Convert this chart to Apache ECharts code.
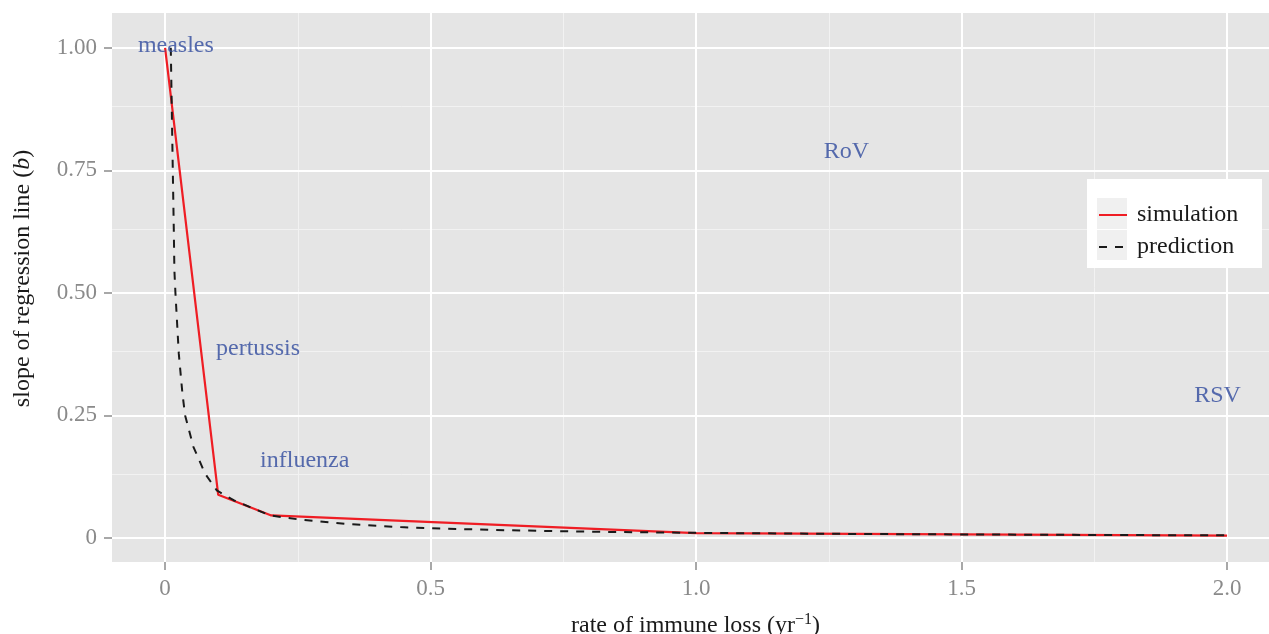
<!DOCTYPE html>
<html>
<head>
<meta charset="utf-8">
<script src="https://cdn.jsdelivr.net/npm/echarts@6/dist/echarts.min.js"></script>
<style>
    html, body { margin: 0; padding: 0; background: #fff; }
    #chart { width: 1269px; height: 634px; }
</style>
</head>
<body>
<div id="chart"></div>
<script>
// ---- data ----
var simX = [0, 0.1, 0.2, 1.0, 2.0];
var simY = [1.0, 0.088, 0.046, 0.010, 0.005];

var predX = [0.0107, 0.0126, 0.0145, 0.0164, 0.0175, 0.0195, 0.0258, 0.0326, 0.0377, 0.0533,
             0.0754, 0.0974, 0.129, 0.160, 0.198, 0.254, 0.349, 0.443, 0.524, 0.650,
             0.80, 1.0, 1.25, 1.5, 1.75, 2.0];
var predY = [1.0, 0.873, 0.75, 0.628, 0.546, 0.499, 0.376, 0.295, 0.250, 0.186,
             0.131, 0.097, 0.077, 0.063, 0.046, 0.0375, 0.028, 0.0222, 0.019, 0.0157,
             0.0128, 0.0105, 0.0085, 0.0072, 0.0062, 0.0053];

var labelNames = ['measles', 'pertussis', 'influenza', 'RoV', 'RSV'];
var labelX = [0.0203, 0.175, 0.263, 1.283, 1.982];
var labelY = [1.005, 0.387, 0.158, 0.789, 0.290];

var xTicks = [0, 0.5, 1.0, 1.5, 2.0];
var yTicks = [0, 0.25, 0.5, 0.75, 1.0];
var xMinor = [0.25, 0.75, 1.25, 1.75];
var yMinor = [0.125, 0.375, 0.625, 0.875];

var FONT = '"Liberation Serif", "DejaVu Serif", serif';

function pairs(xs, ys) {
    return xs.map(function (x, i) { return [x, ys[i]]; });
}

function gridLines(xs, ys) {
    var out = [];
    xs.forEach(function (v) { out.push({ xAxis: v }); });
    ys.forEach(function (v) { out.push({ yAxis: v }); });
    return out;
}

var chart = echarts.init(document.getElementById('chart'));

var option = {
    animation: false,
    grid: {
        left: 112, top: 13, right: 0, bottom: 72,
        outerBoundsMode: 'none',
        show: true, backgroundColor: '#E5E5E5', borderWidth: 0
    },
    legend: {
        data: ['simulation', 'prediction'],
        orient: 'vertical',
        left: 1098, top: 203,
        padding: 0,
        itemWidth: 28, itemHeight: 30, itemGap: 8,
        itemStyle: { color: 'transparent', borderWidth: 0, opacity: 0 },
        textStyle: { fontFamily: FONT, fontSize: 24, color: '#1a1a1a', padding: [0, 0, 0, 5] }
    },
    graphic: [
        { type: 'rect', z: 3, shape: { x: 1087, y: 179, width: 175, height: 89 }, style: { fill: '#ffffff' } },
        { type: 'rect', z: 3, shape: { x: 1097, y: 198, width: 30, height: 31 }, style: { fill: '#F0F0F0' } },
        { type: 'rect', z: 3, shape: { x: 1097, y: 230, width: 30, height: 30 }, style: { fill: '#F0F0F0' } }
    ],
    xAxis: {
        type: 'value',
        min: -0.1, max: 2.079,
        splitLine: { show: false },
        axisLine: { show: false, onZero: false },
        axisTick: { show: true, length: 8, customValues: xTicks, lineStyle: { color: '#8c8c8c', width: 1.5 } },
        axisLabel: {
            customValues: xTicks,
            margin: 15,
            color: '#8a8a8a', fontFamily: FONT, fontSize: 23,
            formatter: function (v) { return v === 0 ? '0' : v.toFixed(1); }
        },
        name: 'rate of immune loss (yr{sup|−1})',
        nameLocation: 'middle',
        nameGap: 50,
        nameTextStyle: {
            fontFamily: FONT, fontSize: 24, color: '#1a1a1a', padding: [0, 0, 0, 10],
            rich: { sup: { fontFamily: FONT, fontSize: 16, color: '#1a1a1a', padding: [0, 0, 12, 0] } }
        }
    },
    yAxis: {
        type: 'value',
        min: -0.049, max: 1.071,
        splitLine: { show: false },
        axisLine: { show: false, onZero: false },
        axisTick: { show: true, length: 8, customValues: yTicks, lineStyle: { color: '#8c8c8c', width: 1.5 } },
        axisLabel: {
            customValues: yTicks,
            margin: 15,
            color: '#8a8a8a', fontFamily: FONT, fontSize: 23,
            formatter: function (v) { return v === 0 ? '0' : v.toFixed(2); }
        },
        name: 'slope of regression line ({it|b})',
        nameLocation: 'middle',
        nameRotate: 90,
        nameGap: 77,
        nameTextStyle: {
            fontFamily: FONT, fontSize: 24, color: '#1a1a1a', padding: [0, 0, 0, 18],
            rich: { it: { fontFamily: FONT, fontSize: 24, fontStyle: 'italic', color: '#1a1a1a' } }
        }
    },
    series: [
        {
            name: 'minorGrid', type: 'line', data: [], z: 1, silent: true,
            markLine: {
                z: 1, silent: true, symbol: ['none', 'none'], label: { show: false },
                lineStyle: { color: '#F2F2F2', width: 1, type: 'solid' },
                emphasis: { disabled: true },
                data: gridLines(xMinor, yMinor)
            }
        },
        {
            name: 'majorGrid', type: 'line', data: [], z: 1, silent: true,
            markLine: {
                z: 1, silent: true, symbol: ['none', 'none'], label: { show: false },
                lineStyle: { color: '#FFFFFF', width: 2, type: 'solid' },
                emphasis: { disabled: true },
                data: gridLines(xTicks, yTicks)
            }
        },
        {
            name: 'simulation', type: 'line', symbol: 'none', z: 4,
            lineStyle: { color: '#ef1d24', width: 2.2 },
            itemStyle: { color: '#ef1d24' },
            data: pairs(simX, simY)
        },
        {
            name: 'prediction', type: 'line', symbol: 'none', z: 5,
            lineStyle: { color: '#1a1a1a', width: 2, type: [8, 8] },
            itemStyle: { color: '#1a1a1a' },
            data: pairs(predX, predY)
        },
        {
            name: 'labels', type: 'scatter', symbolSize: 0, z: 6, silent: true,
            itemStyle: { color: 'transparent' },
            label: {
                show: true, position: 'inside', formatter: '{b}',
                color: '#2f4a9e', fontFamily: FONT, fontSize: 24
            },
            data: labelNames.map(function (n, i) { return { name: n, value: [labelX[i], labelY[i]] }; })
        }
    ]
};

chart.setOption(option);
</script>
</body>
</html>
